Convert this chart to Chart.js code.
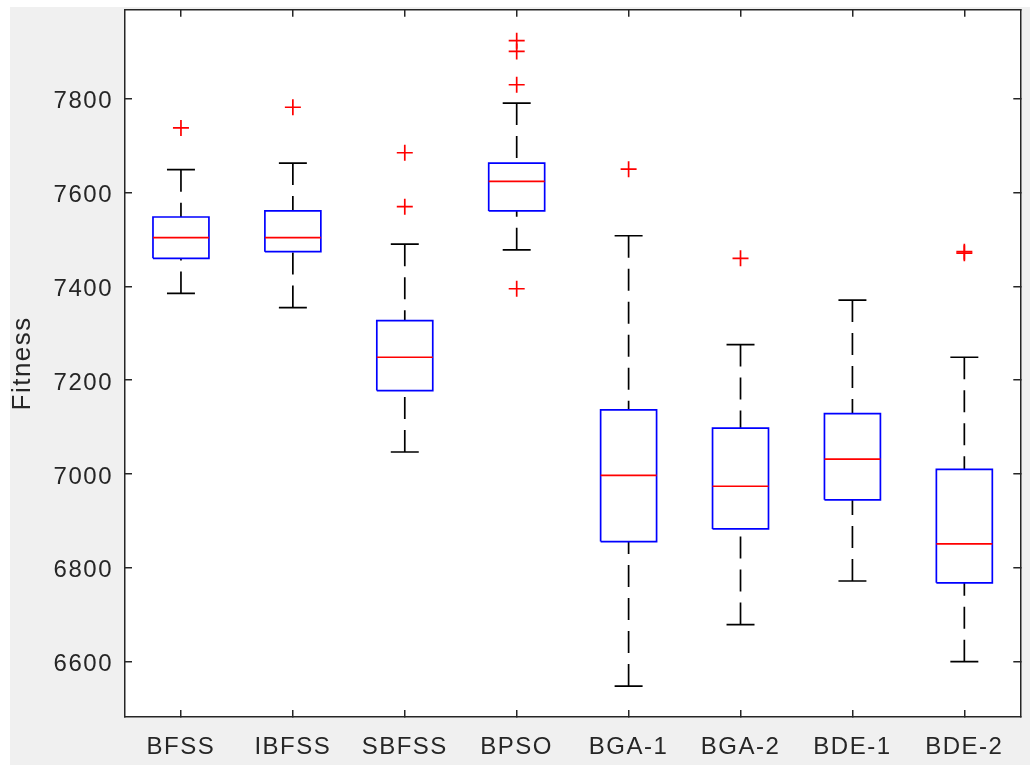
<!DOCTYPE html>
<html><head><meta charset="utf-8">
<script src="https://cdn.jsdelivr.net/npm/chart.js@4.4.0/dist/chart.umd.min.js"></script>
<style>
html,body{margin:0;padding:0;background:#fff;width:1030px;height:765px;overflow:hidden}
#bg{position:absolute;left:10px;top:7px;width:1020px;height:758px;background:#f0f0f0}
#wrap{position:absolute;left:10px;top:0;width:1020px;height:765px}
</style></head><body>
<div id="bg"></div>
<div id="wrap"><canvas id="c" width="1020" height="765"></canvas></div>
<script>
// ---- data ----
const categories   = ['BFSS','IBFSS','SBFSS','BPSO','BGA-1','BGA-2','BDE-1','BDE-2'];
const lowerWhisker = [7385, 7355, 7047, 7478, 6548, 6679, 6772, 6600];
const q1           = [7460, 7474, 7178, 7561, 6856, 6883, 6945, 6768];
const medians      = [7504, 7504, 7249, 7624, 6997, 6974, 7032, 6851];
const q3           = [7548, 7561, 7327, 7663, 7137, 7098, 7129, 7010];
const upperWhisker = [7649, 7663, 7490, 7791, 7508, 7276, 7371, 7249];
const outliers     = [[7738],[7782],[7685,7570],[7924,7901,7830,7395],[7650],[7460],[],[7471,7474]];
const yTicks       = [6600, 6800, 7000, 7200, 7400, 7600, 7800];
const yLimits      = [6482, 7990];

// ---- style ----
const BOX_HALF = 0.25, CAP_HALF = 0.125;
const AX = '#262626';

const boxPts = [], medPts = [], whiskPts = [], capPts = [], outPts = [];
categories.forEach((c, i) => {
  const x = i + 1;
  boxPts.push({x:x-BOX_HALF,y:q1[i]},{x:x+BOX_HALF,y:q1[i]},{x:x+BOX_HALF,y:q3[i]},{x:x-BOX_HALF,y:q3[i]},{x:x-BOX_HALF,y:q1[i]},{x:x,y:null});
  medPts.push({x:x-BOX_HALF,y:medians[i]},{x:x+BOX_HALF,y:medians[i]},{x:x,y:null});
  whiskPts.push({x:x,y:upperWhisker[i]},{x:x,y:q3[i]},{x:x,y:null},{x:x,y:lowerWhisker[i]},{x:x,y:q1[i]},{x:x,y:null});
  capPts.push({x:x-CAP_HALF,y:upperWhisker[i]},{x:x+CAP_HALF,y:upperWhisker[i]},{x:x,y:null},{x:x-CAP_HALF,y:lowerWhisker[i]},{x:x+CAP_HALF,y:lowerWhisker[i]},{x:x,y:null});
  outliers[i].forEach(v => outPts.push({x:x,y:v}));
});

const lineDs = (data, color, extra) => Object.assign({data, showLine:true, borderColor:color, borderWidth:1.7, pointRadius:0, spanGaps:false, fill:false}, extra||{});

const bgPlugin = {
  id:'bgArea',
  beforeDraw(chart){
    const {ctx, chartArea:a} = chart;
    ctx.save(); ctx.fillStyle = '#ffffff';
    ctx.fillRect(a.left, a.top, a.right-a.left, a.bottom-a.top);
    ctx.restore();
    ctx.letterSpacing = '1.5px';
  }
};

function fixFit(size){
  return function(s){
    if (s.isHorizontal()) s.height = size; else s.width = size;
    s.paddingTop = s.paddingBottom = s.paddingLeft = s.paddingRight = 0;
  };
}
const gridOpts = {drawOnChartArea:false, drawTicks:true, tickLength:-7, color:AX, lineWidth:1.5};
const borderOpts = {display:true, color:AX, width:1.5};
const FAM = '"Liberation Sans", Arial, Helvetica, sans-serif';
const tickFont = {family:FAM, size:24};

new Chart(document.getElementById('c'), {
  type:'scatter',
  data:{ datasets:[
    {data:outPts, pointStyle:'cross', pointRadius:8, pointBorderColor:'#ff0000', pointBorderWidth:1.7, showLine:false},
    lineDs(medPts, '#ff0000'),
    lineDs(boxPts, '#0000ff'),
    lineDs(capPts, '#000000'),
    lineDs(whiskPts, '#000000', {borderDash:[22,11]})
  ]},
  options:{
    responsive:false, animation:false, events:[],
    layout:{padding:{top:7, right:7, left:0, bottom:0}},
    plugins:{legend:{display:false}, tooltip:{enabled:false}},
    scales:{
      x:{type:'linear', position:'bottom', min:0.5, max:8.5,
         afterBuildTicks:s=>{s.ticks = categories.map((c,i)=>({value:i+1}));},
         afterFit:fixFit(48),
         grid:gridOpts, border:borderOpts,
         ticks:{font:tickFont, color:AX, padding:23, maxRotation:0, autoSkip:false,
                callback:(v)=>categories[Math.round(v)-1]}},
      x2:{type:'linear', position:'top', min:0.5, max:8.5,
         afterBuildTicks:s=>{s.ticks = categories.map((c,i)=>({value:i+1}));},
         afterFit:fixFit(0),
         grid:gridOpts, border:borderOpts, ticks:{display:false}},
      y:{type:'linear', position:'left', min:yLimits[0], max:yLimits[1],
         afterBuildTicks:s=>{s.ticks = yTicks.map(v=>({value:v}));},
         afterFit:fixFit(115),
         grid:gridOpts, border:borderOpts,
         ticks:{font:tickFont, color:AX, padding:19, labelOffset:3, callback:v=>String(v)},
         title:{display:true, text:'Fitness', color:AX, font:{family:FAM, size:26}, padding:{top:-3, bottom:0}}},
      y2:{type:'linear', position:'right', min:yLimits[0], max:yLimits[1],
         afterBuildTicks:s=>{s.ticks = yTicks.map(v=>({value:v}));},
         afterFit:fixFit(0),
         grid:gridOpts, border:borderOpts, ticks:{display:false}}
    }
  },
  plugins:[bgPlugin]
});
</script>
</body></html>
